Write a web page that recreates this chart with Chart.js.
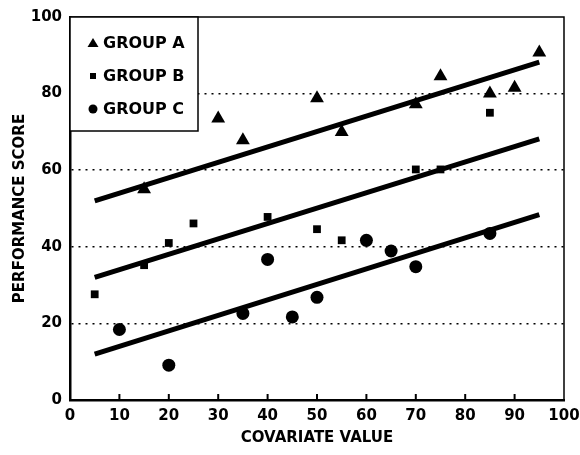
<!DOCTYPE html>
<html>
<head>
<meta charset="utf-8">
<script src="https://cdn.jsdelivr.net/npm/chart.js@4"></script>
<style>
  html, body { margin: 0; padding: 0; background: #fff; }
  #wrap { width: 580px; height: 455px; }
</style>
</head>
<body>
<div id="wrap"><canvas id="chart"></canvas></div>
<script>
// Data
const groupLabels = ['GROUP A', 'GROUP B', 'GROUP C'];

const groupAX = [15, 30, 35, 50, 55, 70, 75, 85, 90, 95];
const groupAY = [55.0, 73.5, 67.8, 78.8, 70.0, 77.2, 84.5, 80.0, 81.5, 90.7];

const groupBX = [5, 15, 20, 25, 40, 50, 55, 70, 75, 85];
const groupBY = [27.6, 35.2, 41.0, 46.1, 47.8, 44.6, 41.7, 60.2, 60.2, 75.0];

const groupCX = [10, 20, 35, 40, 45, 50, 60, 65, 70, 85];
const groupCY = [18.4, 9.1, 22.6, 36.7, 21.7, 26.8, 41.7, 38.9, 34.8, 43.5];

// fitted lines (x from 5 to 95)
const fitX = [5, 95];
const fitA = [52.0, 88.2];
const fitB = [32.0, 68.2];
const fitC = [12.0, 48.4];

const xTicks = [0, 10, 20, 30, 40, 50, 60, 70, 80, 90, 100];
const yTicks = [0, 20, 40, 60, 80, 100];

const FONT = 'DejaVu Sans';

function pts(xs, ys) {
  return xs.map((x, i) => ({ x: x, y: ys[i] }));
}

function fitLine(ys) {
  return {
    type: 'line',
    data: pts(fitX, ys),
    borderColor: '#000',
    borderWidth: 5,
    pointRadius: 0,
    fill: false,
    showLine: true,
  };
}

// frame, inward x ticks and the boxed legend
const extras = {
  id: 'extras',
  afterDatasetsDraw(chart) {
    const { ctx, chartArea: a, scales } = chart;
    ctx.save();
    ctx.strokeStyle = '#000';

    // top and right side of the frame
    ctx.lineWidth = 1.5;
    ctx.beginPath();
    ctx.moveTo(a.left, a.top);
    ctx.lineTo(a.right, a.top);
    ctx.lineTo(a.right, a.bottom);
    ctx.stroke();

    // inward tick marks on the x axis
    ctx.lineWidth = 2;
    xTicks.slice(1, -1).forEach((v) => {
      const px = scales.x.getPixelForValue(v);
      ctx.beginPath();
      ctx.moveTo(px, a.bottom);
      ctx.lineTo(px, a.bottom - 6);
      ctx.stroke();
    });

    // legend box
    const bx = a.left, by = a.top, bw = 128, bh = 114;
    ctx.fillStyle = '#fff';
    ctx.fillRect(bx, by, bw, bh);
    ctx.lineWidth = 1.5;
    ctx.strokeRect(bx, by, bw, bh);

    ctx.fillStyle = '#000';
    ctx.font = 'bold 16px "' + FONT + '"';
    ctx.textBaseline = 'middle';
    ctx.textAlign = 'left';
    groupLabels.forEach((lab, i) => {
      const cy = by + 26 + i * 33;
      const mx = bx + 23;
      ctx.beginPath();
      if (i === 0) {
        ctx.moveTo(mx, cy - 5);
        ctx.lineTo(mx + 5.5, cy + 4);
        ctx.lineTo(mx - 5.5, cy + 4);
        ctx.closePath();
        ctx.fill();
      } else if (i === 1) {
        ctx.fillRect(mx - 3, cy - 3, 6, 6);
      } else {
        ctx.arc(mx, cy, 4.5, 0, Math.PI * 2);
        ctx.fill();
      }
      ctx.fillText(lab, bx + 33, cy + 1);
    });
    ctx.restore();
  },
};

new Chart(document.getElementById('chart'), {
  type: 'scatter',
  data: {
    datasets: [
      { label: groupLabels[0], data: pts(groupAX, groupAY), pointStyle: 'triangle', pointRadius: 8, backgroundColor: '#000', borderColor: '#000', borderWidth: 0 },
      { label: groupLabels[1], data: pts(groupBX, groupBY), pointStyle: 'rect', pointRadius: 5.5, backgroundColor: '#000', borderColor: '#000', borderWidth: 0 },
      { label: groupLabels[2], data: pts(groupCX, groupCY), pointStyle: 'circle', pointRadius: 6.5, backgroundColor: '#000', borderColor: '#000', borderWidth: 0 },
      fitLine(fitA),
      fitLine(fitB),
      fitLine(fitC),
    ],
  },
  options: {
    responsive: true,
    maintainAspectRatio: false,
    animation: false,
    layout: { padding: { top: 16, right: 16, left: 0, bottom: 0 } },
    plugins: {
      legend: { display: false },
      tooltip: { enabled: false },
    },
    scales: {
      x: {
        type: 'linear',
        min: 0,
        max: 100,
        afterBuildTicks: (s) => { s.ticks = xTicks.map((v) => ({ value: v })); },
        afterFit: (s) => { s.height = 55; s.paddingRight = 0; },
        grid: { display: false, drawTicks: false },
        border: { display: true, color: '#000', width: 2.5 },
        ticks: {
          padding: 7,
          color: '#000',
          font: { family: FONT, size: 15, weight: 'bold' },
        },
        title: {
          display: true,
          text: 'COVARIATE VALUE',
          color: '#000',
          padding: { top: 0, bottom: 8 },
          font: { family: FONT, size: 15, weight: 'bold' },
        },
      },
      y: {
        type: 'linear',
        min: 0,
        max: 100,
        afterBuildTicks: (s) => { s.ticks = yTicks.map((v) => ({ value: v })); },
        afterFit: (s) => { s.width = 70; },
        grid: {
          drawTicks: false,
          lineWidth: 1.5,
          color: (c) => (c.tick && (c.tick.value === 0 || c.tick.value === 100) ? 'rgba(0,0,0,0)' : '#000'),
        },
        border: { display: true, color: '#000', width: 2.5, dash: [2, 5] },
        ticks: {
          padding: 8,
          color: '#000',
          font: { family: FONT, size: 15, weight: 'bold' },
        },
        title: {
          display: true,
          text: 'PERFORMANCE SCORE',
          color: '#000',
          padding: { top: 11, bottom: 0 },
          font: { family: FONT, size: 15, weight: 'bold' },
        },
      },
    },
  },
  plugins: [extras],
});
</script>
</body>
</html>
